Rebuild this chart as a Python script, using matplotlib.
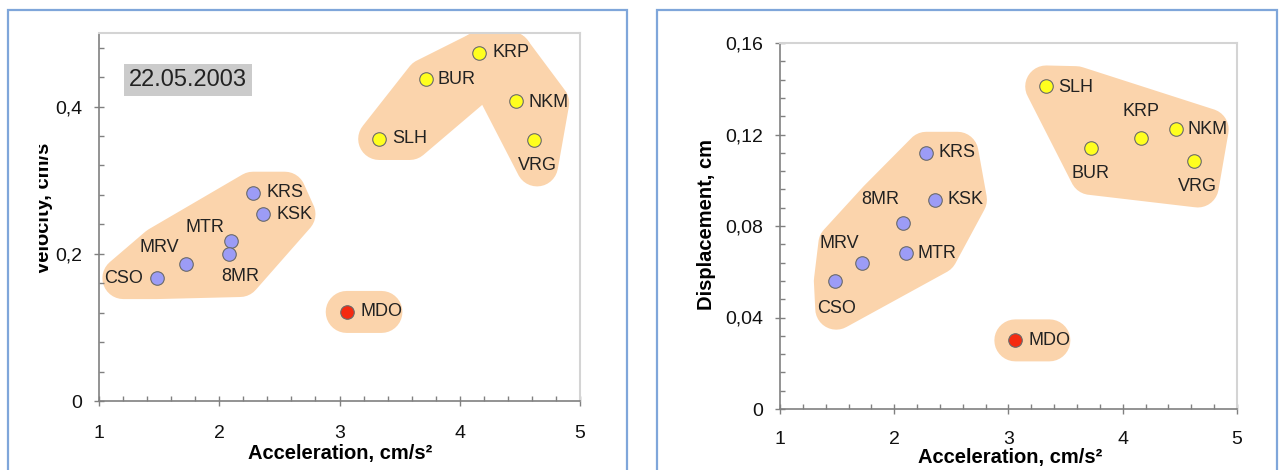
import numpy as np
import matplotlib
matplotlib.use('Agg')
import matplotlib.pyplot as plt
from matplotlib.patches import Polygon, Rectangle
from matplotlib.transforms import IdentityTransform, Bbox
from matplotlib.ticker import MultipleLocator, FuncFormatter

plt.rcParams['font.family'] = ['Liberation Sans', 'DejaVu Sans']

# data
stations = ['CSO', 'MRV', 'MTR', '8MR', 'KRS', 'KSK', 'MDO', 'SLH', 'BUR', 'KRP', 'NKM', 'VRG']
acceleration = [1.48, 1.72, 2.10, 2.08, 2.28, 2.36, 3.06, 3.33, 3.72, 4.16, 4.47, 4.62]
velocity = [0.167, 0.186, 0.217, 0.200, 0.283, 0.254, 0.121, 0.356, 0.437, 0.473, 0.407, 0.355]
displacement = [0.056, 0.064, 0.068, 0.0815, 0.112, 0.0915, 0.030, 0.141, 0.114, 0.1185, 0.1225, 0.1085]
station_group = ['b', 'b', 'b', 'b', 'b', 'b', 'r', 'y', 'y', 'y', 'y', 'y']
date_label = '22.05.2003'
x_title = 'Acceleration, cm/s\u00b2'
y_titles = ['velocity, cm/s', 'Displacement, cm']

# styling
W, H, DPI = 1279, 470, 100
marker_colors = {'b': '#9C9CF6', 'r': '#F52A10', 'y': '#FFFF1E'}
blob_color = '#FBD4AC'
frame_color = '#7FA6DA'
blob_radius = 21  # px around points / label centres

# label offsets in points (dx, dy)
left_offsets = {'CSO': (-24, 0), 'MRV': (-19, 12), 'MTR': (-19, 10), '8MR': (8, -16),
                'KRS': (23, 0), 'KSK': (23, 0), 'MDO': (25, 0), 'SLH': (22, 0),
                'BUR': (22, 0), 'KRP': (23, 0), 'NKM': (23, -1), 'VRG': (2, -18.5)}
right_offsets = {'CSO': (1, -20), 'MRV': (-16.5, 13.5), 'MTR': (22.5, 0), '8MR': (-17, 16.5),
                 'KRS': (22.5, 0), 'KSK': (22, 0), 'MDO': (24.5, 0), 'SLH': (21.5, -0.5),
                 'BUR': (0, -18.5), 'KRP': (0, 19), 'NKM': (22.5, -0.5), 'VRG': (3, -18.5)}
# stations enclosed by each hand-drawn highlight (one convex piece each)
left_blobs = [['CSO', 'MRV', 'MTR', '8MR', 'KRS', 'KSK'], ['MDO'],
              ['SLH', 'BUR', 'KRP'], ['KRP', 'NKM', 'VRG']]
right_blobs = [['CSO', 'MRV', 'MTR', '8MR', 'KRS', 'KSK'], ['MDO'],
               ['SLH', 'BUR', 'KRP', 'NKM', 'VRG']]


def comma_fmt(v, pos):
    return ('%g' % round(v, 4)).replace('.', ',')


def hull(pts):
    pts = sorted(set(map(tuple, pts)))
    if len(pts) < 3:
        return pts

    def cross(o, a, b):
        return (a[0] - o[0]) * (b[1] - o[1]) - (a[1] - o[1]) * (b[0] - o[0])
    lower, upper = [], []
    for p in pts:
        while len(lower) >= 2 and cross(lower[-2], lower[-1], p) <= 0:
            lower.pop()
        lower.append(p)
    for p in reversed(pts):
        while len(upper) >= 2 and cross(upper[-2], upper[-1], p) <= 0:
            upper.pop()
        upper.append(p)
    return lower[:-1] + upper[:-1]


def panel(rect, yvals, ymax, ymajor, yminor, offsets, blobs, xpad):
    ax = fig.add_axes(rect)
    ax.set_xlim(1, 5)
    ax.set_ylim(0, ymax)
    for s in ['left', 'bottom']:
        ax.spines[s].set_color('#808080')
        ax.spines[s].set_linewidth(1.2)
    for s in ['top', 'right']:
        ax.spines[s].set_color('#D4D4D4')
        ax.spines[s].set_linewidth(1.5)
    ax.xaxis.set_major_locator(MultipleLocator(1))
    ax.xaxis.set_minor_locator(MultipleLocator(0.2))
    ax.yaxis.set_major_locator(MultipleLocator(ymajor))
    ax.yaxis.set_minor_locator(MultipleLocator(yminor))
    ax.yaxis.set_major_formatter(FuncFormatter(comma_fmt))
    ax.xaxis.set_major_formatter(FuncFormatter(comma_fmt))
    ax.tick_params(which='major', direction='inout', length=7, width=1, color='#808080',
                   labelsize=14, labelcolor='#111111')
    ax.tick_params(which='minor', direction='in', length=3.5, width=1, color='#808080')
    ax.tick_params(axis='x', which='major', pad=xpad)
    ax.tick_params(axis='y', which='major', pad=8.7)

    # highlight blobs behind the points: rounded hull of points + label centres (pixels)
    k = DPI / 72.0
    ang = np.linspace(0, 2 * np.pi, 36, endpoint=False)
    ring = np.column_stack([np.cos(ang), np.sin(ang)]) * blob_radius
    for names in blobs:
        anchors = []
        for nm in names:
            i = stations.index(nm)
            p = ax.transData.transform((acceleration[i], yvals[i]))
            dx, dy = offsets[nm]
            for c in [p, p + np.array([dx * k, dy * k])]:
                anchors.extend(map(tuple, c + ring))
        poly = Polygon(hull(anchors), closed=True, transform=IdentityTransform(),
                       facecolor=blob_color, edgecolor='none', zorder=1)
        ax.add_artist(poly)

    for i, nm in enumerate(stations):
        ax.scatter(acceleration[i], yvals[i], s=95, c=marker_colors[station_group[i]],
                   edgecolors='#6A6A6A', linewidths=0.8, zorder=3)
        ax.annotate(nm, (acceleration[i], yvals[i]), xytext=offsets[nm],
                    textcoords='offset points', ha='center', va='center',
                    fontsize=13, color='#222222', zorder=4)
    return ax


fig = plt.figure(figsize=(W / DPI, H / DPI), dpi=DPI)

ax1 = panel([99 / W, 1 - 401 / H, 481 / W, 368 / H], velocity, 0.5, 0.2, 0.04,
            left_offsets, left_blobs, 13.8)
ax2 = panel([780 / W, 1 - 409 / H, 457 / W, 366 / H], displacement, 0.16, 0.04, 0.008,
            right_offsets, right_blobs, 12.3)

# slide frames
for x0, x1 in [(8, 627), (657, 1277)]:
    fig.add_artist(Rectangle((x0 / W, -0.05), (x1 - x0) / W, 1.05 - 10 / H,
                             transform=fig.transFigure, fill=False,
                             edgecolor=frame_color, lw=1.6))

# date box
fig.text(188 / W, 1 - 80 / H, date_label, fontsize=17, ha='center', va='center',
         color='#222222',
         bbox=dict(boxstyle='square,pad=0.22', fc='#CBCBCB', ec='none'))

# axis titles
fig.text(340 / W, 1 - 453 / H, x_title, fontsize=14.5, fontweight='bold',
         ha='center', va='center')
fig.text(1010 / W, 1 - 457 / H, x_title, fontsize=14.5, fontweight='bold',
         ha='center', va='center')
yt = fig.text(44 / W, 1 - 208 / H, y_titles[0], fontsize=14.5, fontweight='bold',
              rotation=90, ha='center', va='center')
yt.set_clip_box(Bbox.from_extents(39, 0, W, H))
yt.set_clip_on(True)
fig.text(706 / W, 1 - 225 / H, y_titles[1], fontsize=14.5, fontweight='bold',
         rotation=90, ha='center', va='center')

fig.savefig('out.png', dpi=DPI)
